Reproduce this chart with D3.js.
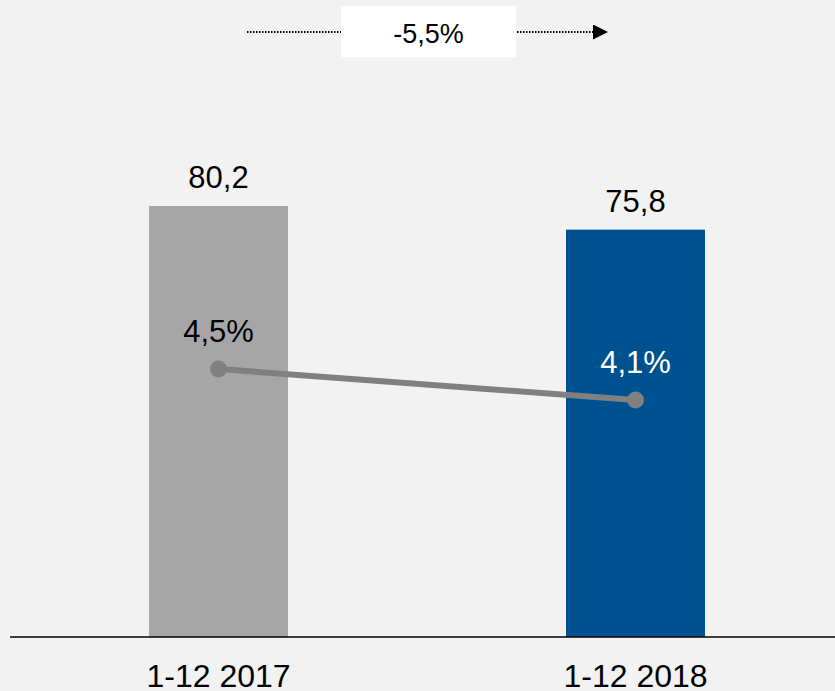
<!DOCTYPE html>
<html>
<head>
<meta charset="utf-8">
<script src="https://cdn.jsdelivr.net/npm/d3@7.9.0/dist/d3.min.js"></script>
<style>
  html, body { margin: 0; padding: 0; background: #f2f2f2; }
  svg { display: block; font-family: "Liberation Sans", Arial, Helvetica, sans-serif; }
</style>
</head>
<body>
<svg id="chart"></svg>
<script>
// data
const periods = ['1-12 2017', '1-12 2018'];
const volumes = [80.2, 75.8];
const shares = [4.5, 4.1];
const barColors = ['#a6a6a6', '#00518f'];
const changeLabel = '-5,5%';

const width = 835, height = 691;
const baseY = 637;

const fmt = v => String(v).replace('.', ',');

const svg = d3.select('#chart')
  .attr('width', width)
  .attr('height', height);

svg.append('rect')
  .attr('width', width).attr('height', height)
  .attr('fill', '#f2f2f2');

// scales
const x = d3.scaleBand()
  .domain(periods)
  .range([10, 844])
  .paddingInner(2 / 3)
  .paddingOuter(1 / 3);

const y = d3.scaleLinear()
  .domain([0, 100])
  .range([baseY, baseY - 537.4]);

const y2 = d3.scaleLinear()
  .domain([0, 5])
  .range([717.75, 330.25]);

// bars
svg.selectAll('.bar')
  .data(volumes)
  .join('rect')
  .attr('class', 'bar')
  .attr('x', (d, i) => x(periods[i]))
  .attr('y', d => y(d))
  .attr('width', x.bandwidth())
  .attr('height', d => y(0) - y(d))
  .attr('fill', (d, i) => barColors[i]);

// bar value labels
svg.selectAll('.bar-label')
  .data(volumes)
  .join('text')
  .attr('class', 'bar-label')
  .attr('x', (d, i) => x(periods[i]) + x.bandwidth() / 2)
  .attr('y', d => y(d) - 18)
  .attr('text-anchor', 'middle')
  .attr('font-size', '31px')
  .attr('fill', '#000')
  .text(d => fmt(d));

// baseline
svg.append('line')
  .attr('x1', 10).attr('x2', width)
  .attr('y1', baseY).attr('y2', baseY)
  .attr('stroke', '#000')
  .attr('stroke-width', 1.5);

// category labels
svg.selectAll('.cat')
  .data(periods)
  .join('text')
  .attr('class', 'cat')
  .attr('x', d => x(d) + x.bandwidth() / 2)
  .attr('y', 687)
  .attr('text-anchor', 'middle')
  .attr('font-size', '32px')
  .attr('fill', '#000')
  .text(d => d);

// share line
const line = d3.line()
  .x((d, i) => x(periods[i]) + x.bandwidth() / 2)
  .y(d => y2(d));

svg.append('path')
  .datum(shares)
  .attr('d', line)
  .attr('fill', 'none')
  .attr('stroke', '#808080')
  .attr('stroke-width', 6);

svg.selectAll('.dot')
  .data(shares)
  .join('circle')
  .attr('class', 'dot')
  .attr('cx', (d, i) => x(periods[i]) + x.bandwidth() / 2)
  .attr('cy', d => y2(d))
  .attr('r', 8.5)
  .attr('fill', '#808080');

svg.selectAll('.share-label')
  .data(shares)
  .join('text')
  .attr('class', 'share-label')
  .attr('x', (d, i) => x(periods[i]) + x.bandwidth() / 2)
  .attr('y', d => y2(d) - 27)
  .attr('text-anchor', 'middle')
  .attr('font-size', '31px')
  .attr('fill', (d, i) => i === 0 ? '#000' : '#fff')
  .text(d => fmt(d) + '%');

// change arrow on top
svg.append('defs').append('marker')
  .attr('id', 'arrow')
  .attr('viewBox', '0 0 15 15')
  .attr('refX', 0).attr('refY', 7.5)
  .attr('markerWidth', 15).attr('markerHeight', 15)
  .attr('markerUnits', 'userSpaceOnUse')
  .attr('orient', 'auto')
  .append('path')
  .attr('d', 'M0,0L15,7.5L0,15Z')
  .attr('fill', '#000');

svg.append('line')
  .attr('x1', 247).attr('x2', 593)
  .attr('y1', 32).attr('y2', 32)
  .attr('stroke', '#000')
  .attr('stroke-width', 2)
  .attr('stroke-dasharray', '1.5,1.5')
  .attr('marker-end', 'url(#arrow)');

svg.append('rect')
  .attr('x', 341).attr('y', 6)
  .attr('width', 175).attr('height', 51)
  .attr('fill', '#fff');

svg.append('text')
  .attr('x', 428.5).attr('y', 43)
  .attr('text-anchor', 'middle')
  .attr('font-size', '27px')
  .attr('fill', '#000')
  .text(changeLabel);
</script>
</body>
</html>
